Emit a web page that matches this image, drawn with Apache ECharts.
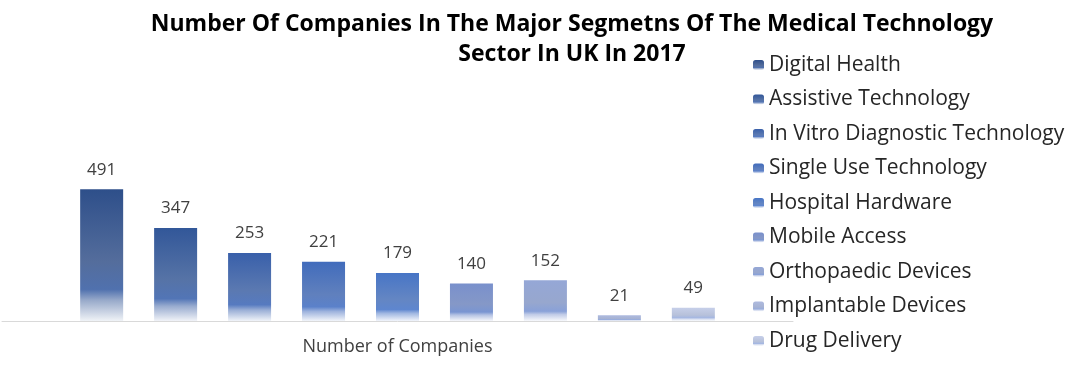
<!DOCTYPE html>
<html>
<head>
<meta charset="utf-8">
<script src="https://cdn.jsdelivr.net/npm/echarts@6/dist/echarts.min.js"></script>
<style>html,body{margin:0;padding:0;background:#fff;}#c{width:1092px;height:367px;}</style>
</head>
<body>
<div id="c"></div>
<script>
var categories = ['Number of Companies'];
var segments = ['Digital Health','Assistive Technology','In Vitro Diagnostic Technology','Single Use Technology','Hospital Hardware','Mobile Access','Orthopaedic Devices','Implantable Devices','Drug Delivery'];
var values = [491, 347, 253, 221, 179, 140, 152, 21, 49];
var palette = ['#2E4F8A','#325799','#3960AA','#416CBC','#4775C6','#7990CC','#95A7D6','#AEBADF','#C6CFE9'];

function mix(hex, tgt, t){
  var a=parseInt(hex.slice(1),16), b=parseInt(tgt.slice(1),16);
  var r=Math.round(((a>>16)&255)*(1-t)+((b>>16)&255)*t);
  var g=Math.round(((a>>8)&255)*(1-t)+((b>>8)&255)*t);
  var bl=Math.round((a&255)*(1-t)+(b&255)*t);
  return 'rgb('+r+','+g+','+bl+')';
}
function grad(c){
  return new echarts.graphic.LinearGradient(0,0,0,1,[
    {offset:0,color:c},
    {offset:0.55,color:mix(c,'#9AA6BE',0.35)},
    {offset:0.76,color:mix(c,'#7A9ADA',0.45)},
    {offset:0.84,color:mix(c,'#DCE3F3',0.6)},
    {offset:1,color:mix(c,'#FFFFFF',0.93)}
  ]);
}

var series = segments.map(function(name,i){
  return {
    name:name, type:'bar', data:[values[i]],
    barWidth:43, barGap:'72%',
    itemStyle:{color:grad(palette[i])},
    label:{show:true,position:'top',distance:11,color:'#404040',fontSize:17,fontFamily:'Open Sans'}
  };
});

var chart = echarts.init(document.getElementById('c'));
chart.setOption({
  animation:false,
  backgroundColor:'#fff',
  title:{
    text:'Number Of Companies In The Major Segmetns Of The Medical Technology\nSector In UK In 2017',
    left:567, top:4, textAlign:'center',
    textStyle:{fontFamily:'Open Sans',fontWeight:'bold',fontSize:23,color:'#000',lineHeight:30}
  },
  legend:{
    orient:'vertical', left:748, top:49,
    itemWidth:11, itemHeight:10, itemGap:12.5,
    textStyle:{fontFamily:'Open Sans',fontSize:21,color:'#262626',lineHeight:22},
    data:segments
  },
  grid:{left:2,right:299,top:160,bottom:46},
  xAxis:{
    type:'category', data:categories,
    axisLine:{lineStyle:{color:'#D9D9D9',width:1}},
    axisTick:{show:false},
    axisLabel:{color:'#404040',fontSize:18,fontFamily:'Open Sans',margin:17}
  },
  yAxis:{type:'value',min:0,max:600,show:false,splitLine:{show:false}},
  series:series
});
</script>
</body>
</html>
